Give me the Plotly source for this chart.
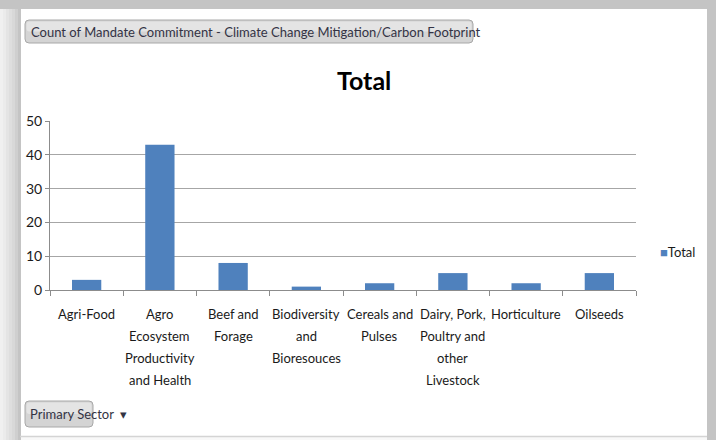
import plotly.graph_objects as go

categories = ["Agri-Food", "Agro Ecosystem Productivity and Health", "Beef and Forage",
              "Biodiversity and Bioresouces", "Cereals and Pulses",
              "Dairy, Pork, Poultry and other Livestock", "Horticulture", "Oilseeds"]
tick_lines = [["Agri-Food"], ["Agro", "Ecosystem", "Productivity", "and Health"],
              ["Beef and", "Forage"], ["Biodiversity", "and", "Bioresouces"],
              ["Cereals and", "Pulses"], ["Dairy, Pork,", "Poultry and", "other", "Livestock"],
              ["Horticulture"], ["Oilseeds"]]
values = [3, 43, 8, 1, 2, 5, 2, 5]
series_name = "Total"
y_ticks = [0, 10, 20, 30, 40, 50]

W, H = 716, 440
L, R, T, B = 50, 636, 121, 290
FONT = "Lato, Liberation Sans, sans-serif"
TXT = "#1a1a1a"
BAR = "#4F81BD"

def px(x):
    return (x - L) / (R - L)

def py(y):
    return (B - y) / (B - T)

fig = go.Figure()
fig.add_trace(go.Bar(x=categories, y=values, name=series_name,
                     marker=dict(color=BAR, line=dict(width=0)),
                     width=0.4, showlegend=False))

shapes = []
shapes.append(dict(type="rect", xref="paper", yref="paper", x0=px(20), x1=px(707), y0=py(9), y1=py(436),
                   fillcolor="#ffffff", line=dict(width=0), layer="below"))
shapes.append(dict(type="rect", xref="paper", yref="paper", x0=px(20), x1=px(707), y0=py(436), y1=py(441),
                   fillcolor="#f8f8f8", line=dict(width=0), layer="below"))
for i, c in enumerate(["#f0f0f0", "#ebebeb", "#e4e4e4", "#dedede", "#d8d8d8", "#cfcfcf", "#c4c4c4"]):
    shapes.append(dict(type="rect", xref="paper", yref="paper", x0=px(i * 3), x1=px(i * 3 + 3),
                       y0=py(9), y1=py(441), fillcolor=c, line=dict(width=0), layer="below"))
shapes.append(dict(type="line", xref="paper", yref="paper", x0=px(20), x1=px(707), y0=py(436.5), y1=py(436.5),
                   line=dict(color="#d4d4d4", width=1.5), layer="below"))

def rounded(x0, y0, x1, y1, r):
    X0, X1 = px(x0), px(x1)
    Y0, Y1 = py(y0), py(y1)
    rx, ry = r / (R - L), r / (B - T)
    return (f"M{X0 + rx},{Y0} L{X1 - rx},{Y0} Q{X1},{Y0} {X1},{Y0 - ry} L{X1},{Y1 + ry} "
            f"Q{X1},{Y1} {X1 - rx},{Y1} L{X0 + rx},{Y1} Q{X0},{Y1} {X0},{Y1 + ry} "
            f"L{X0},{Y0 - ry} Q{X0},{Y0} {X0 + rx},{Y0} Z")

for (x0, y0, x1, y1) in [(25, 20, 473, 43), (25, 401, 93, 427)]:
    shapes.append(dict(type="path", xref="paper", yref="paper", path=rounded(x0, y0, x1, y1, 4),
                       fillcolor="#d4d4d4", line=dict(color="#a8a8a8", width=1), layer="below"))
    shapes.append(dict(type="path", xref="paper", yref="paper",
                       path=rounded(x0 + 1.5, y0 + 1.5, x1 - 1.5, (y0 + y1) / 2, 3),
                       fillcolor="#e4e4e4", line=dict(width=0), layer="below"))

annotations = []
annotations.append(dict(text="Count of Mandate Commitment - Climate Change Mitigation/Carbon Footprint",
                        xref="paper", yref="paper", x=px(29), y=py(31.5), xanchor="left", yanchor="middle",
                        showarrow=False, font=dict(family=FONT, size=13, color="#333344")))
annotations.append(dict(text="Primary Sector  ▾", xref="paper", yref="paper", x=px(28), y=py(414),
                        xanchor="left", yanchor="middle", showarrow=False,
                        font=dict(family=FONT, size=13, color="#333344")))
annotations.append(dict(text="<b>Total</b>", xref="paper", yref="paper", x=px(364), y=py(80),
                        xanchor="center", yanchor="middle", showarrow=False,
                        font=dict(family=FONT, size=25, color="#000000")))
annotations.append(dict(text=f"<span style='color:{BAR}'>■</span>{series_name}", xref="paper", yref="paper",
                        x=px(658), y=py(252), xanchor="left", yanchor="middle", showarrow=False,
                        font=dict(family=FONT, size=13, color=TXT)))
for cat, lines in zip(categories, tick_lines):
    for k, ln in enumerate(lines):
        annotations.append(dict(text=ln, xref="x", yref="paper", x=cat, y=0, xanchor="center",
                                yanchor="middle", yshift=-(24 + 22 * k), showarrow=False,
                                font=dict(family=FONT, size=13, color=TXT)))

fig.update_layout(
    width=W, height=H, autosize=False,
    margin=dict(l=L, r=W - R, t=T, b=H - B),
    paper_bgcolor="#c4c4c4", plot_bgcolor="rgba(0,0,0,0)",
    font=dict(family=FONT, size=13, color=TXT),
    shapes=shapes, annotations=annotations,
    bargap=0.6, showlegend=False,
    xaxis=dict(type="category", showticklabels=False, ticks="outside", ticklen=5,
               tickson="boundaries", tickcolor="#8c8c8c", showline=True, linecolor="#8c8c8c",
               linewidth=1, showgrid=False, range=[-0.5, len(categories) - 0.5], fixedrange=True),
    yaxis=dict(range=[0, 50], tickvals=y_ticks, ticks="outside", ticklen=4, tickcolor="#8c8c8c",
               showline=True, linecolor="#8c8c8c", linewidth=1, showgrid=True, gridcolor="#a6a6a6",
               gridwidth=1, zeroline=False, tickfont=dict(family=FONT, size=14, color=TXT),
               fixedrange=True),
)

fig.write_html("out.html", default_width="716px", default_height="440px",
               config={"displayModeBar": False, "responsive": False},
               post_script=("document.documentElement.style.cssText="
                            "'overflow:hidden;scrollbar-width:none;background:#c4c4c4;margin:0;padding:0';"
                            "document.body.style.cssText='margin:0;padding:0;overflow:hidden;background:#c4c4c4';"
                            "window.scrollTo(0,0);"))
